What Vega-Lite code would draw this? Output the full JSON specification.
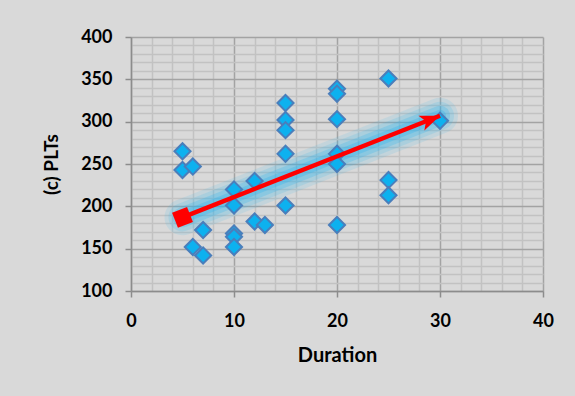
{
  "$schema": "https://vega.github.io/schema/vega-lite/v6.json",
  "width": 412,
  "height": 254,
  "autosize": {"type": "none"},
  "padding": {"left": 131, "top": 37, "right": 32, "bottom": 105},
  "background": "#d9d9d9",
  "title": {"text": "(c) Lymphocytes (%)", "font": "Liberation Serif", "fontSize": 18, "fontWeight": "normal", "color": "#000000", "offset": 33, "dx": -43, "anchor": "middle"},
  "config": {"view": {"stroke": null}},
  "datasets": {
    "points": [
      {"Duration": 5, "PLTs": 265}, {"Duration": 5, "PLTs": 243}, {"Duration": 6, "PLTs": 247}, {"Duration": 6, "PLTs": 152},
      {"Duration": 7, "PLTs": 172}, {"Duration": 7, "PLTs": 142}, {"Duration": 10, "PLTs": 220}, {"Duration": 10, "PLTs": 201},
      {"Duration": 10, "PLTs": 168}, {"Duration": 10, "PLTs": 164}, {"Duration": 10, "PLTs": 152}, {"Duration": 12, "PLTs": 230},
      {"Duration": 12, "PLTs": 182}, {"Duration": 13, "PLTs": 178}, {"Duration": 15, "PLTs": 322}, {"Duration": 15, "PLTs": 302},
      {"Duration": 15, "PLTs": 290}, {"Duration": 15, "PLTs": 262}, {"Duration": 15, "PLTs": 201}, {"Duration": 20, "PLTs": 339},
      {"Duration": 20, "PLTs": 333}, {"Duration": 20, "PLTs": 303}, {"Duration": 20, "PLTs": 262}, {"Duration": 20, "PLTs": 250},
      {"Duration": 20, "PLTs": 178}, {"Duration": 25, "PLTs": 351}, {"Duration": 25, "PLTs": 231}, {"Duration": 25, "PLTs": 213},
      {"Duration": 30, "PLTs": 301}
    ],
    "arrow": [
      {"Duration": 5, "PLTs": 187, "end": "start"},
      {"Duration": 30, "PLTs": 307, "end": "tip"}
    ]
  },
  "layer": [
    {
      "data": {"name": "arrow"},
      "mark": {"type": "line", "color": "#2ab4ee", "strokeWidth": 36, "opacity": 0.12, "strokeCap": "round", "clip": false},
      "encoding": {
        "x": {
          "field": "Duration", "type": "quantitative",
          "scale": {"domain": [0, 40], "nice": false, "zero": false},
          "axis": {
            "title": "Duration",
            "values": [0, 2, 4, 6, 8, 10, 12, 14, 16, 18, 20, 22, 24, 26, 28, 30, 32, 34, 36, 38, 40],
            "tickCount": 100,
            "format": "d",
            "grid": true,
            "gridColor": {"condition": {"test": "datum.value % 10 === 0", "value": "#a3a3a3"}, "value": "#c2c2c2"},
            "gridWidth": 1.5,
            "tickOpacity": {"condition": {"test": "datum.value % 10 === 0", "value": 1}, "value": 0},
            "tickSize": 6, "tickColor": "#8c8c8c", "tickWidth": 1.5,
            "domainColor": "#8c8c8c", "domainWidth": 1.5,
            "labelExpr": "datum.value % 10 === 0 ? datum.label : ''",
            "labelFont": "Lato", "labelFontWeight": "bold", "labelFontSize": 18, "labelColor": "#000000",
            "labelPadding": 15, "labelOverlap": false, "labelFlush": false,
            "titleFont": "Lato", "titleFontSize": 20, "titleFontWeight": "bold", "titleColor": "#000000", "titlePadding": 15
          }
        },
        "y": {
          "field": "PLTs", "type": "quantitative",
          "scale": {"domain": [100, 400], "nice": false, "zero": false},
          "axis": {
            "title": "(c) PLTs",
            "values": [100, 110, 120, 130, 140, 150, 160, 170, 180, 190, 200, 210, 220, 230, 240, 250, 260, 270, 280, 290, 300, 310, 320, 330, 340, 350, 360, 370, 380, 390, 400],
            "tickCount": 100,
            "format": "d",
            "grid": true,
            "gridColor": {"condition": {"test": "datum.value % 50 === 0", "value": "#a3a3a3"}, "value": "#c2c2c2"},
            "gridWidth": 1.5,
            "tickOpacity": {"condition": {"test": "datum.value % 50 === 0", "value": 1}, "value": 0},
            "tickSize": 6, "tickColor": "#8c8c8c", "tickWidth": 1.5,
            "domainColor": "#8c8c8c", "domainWidth": 1.5,
            "labelExpr": "datum.value % 50 === 0 ? datum.label : ''",
            "labelFont": "Lato", "labelFontWeight": "bold", "labelFontSize": 18, "labelColor": "#000000",
            "labelPadding": 13, "labelOverlap": false, "labelFlush": false,
            "titleFont": "Lato", "titleFontSize": 19, "titleFontWeight": "bold", "titleColor": "#000000", "titlePadding": 19
          }
        }
      }
    },
    {
      "data": {"name": "arrow"},
      "mark": {"type": "line", "color": "#2ab4ee", "strokeWidth": 28, "opacity": 0.16, "strokeCap": "round", "clip": false},
      "encoding": {"x": {"field": "Duration", "type": "quantitative"}, "y": {"field": "PLTs", "type": "quantitative"}}
    },
    {
      "data": {"name": "arrow"},
      "mark": {"type": "line", "color": "#2ab4ee", "strokeWidth": 20, "opacity": 0.25, "strokeCap": "round", "clip": false},
      "encoding": {"x": {"field": "Duration", "type": "quantitative"}, "y": {"field": "PLTs", "type": "quantitative"}}
    },
    {
      "data": {"name": "arrow"},
      "mark": {"type": "line", "color": "#2ab4ee", "strokeWidth": 12, "opacity": 0.3, "strokeCap": "round", "clip": false},
      "encoding": {"x": {"field": "Duration", "type": "quantitative"}, "y": {"field": "PLTs", "type": "quantitative"}}
    },
    {
      "data": {"name": "points"},
      "mark": {"type": "point", "shape": "diamond", "filled": true, "fill": "#0db1ef", "stroke": "#4a7ebb", "strokeWidth": 2, "size": 260, "opacity": 1, "fillOpacity": 1, "strokeOpacity": 1},
      "encoding": {"x": {"field": "Duration", "type": "quantitative"}, "y": {"field": "PLTs", "type": "quantitative"}}
    },
    {
      "data": {"name": "arrow"},
      "mark": {"type": "line", "color": "#ff0000", "strokeWidth": 4.5, "clip": false},
      "encoding": {"x": {"field": "Duration", "type": "quantitative"}, "y": {"field": "PLTs", "type": "quantitative"}}
    },
    {
      "data": {"name": "arrow"},
      "transform": [{"filter": "datum.end === 'tip'"}],
      "mark": {"type": "point", "shape": "M0,0L-2,-0.8L-1.5,0L-2,0.8Z", "filled": true, "color": "#ff0000", "size": 400, "angle": 338.5, "opacity": 1, "clip": false},
      "encoding": {"x": {"field": "Duration", "type": "quantitative"}, "y": {"field": "PLTs", "type": "quantitative"}}
    },
    {
      "data": {"name": "arrow"},
      "transform": [{"filter": "datum.end === 'start'"}],
      "mark": {"type": "point", "shape": "square", "filled": true, "color": "#ff0000", "size": 260, "angle": 338.5, "opacity": 1, "clip": false},
      "encoding": {"x": {"field": "Duration", "type": "quantitative"}, "y": {"field": "PLTs", "type": "quantitative"}}
    }
  ]
}
